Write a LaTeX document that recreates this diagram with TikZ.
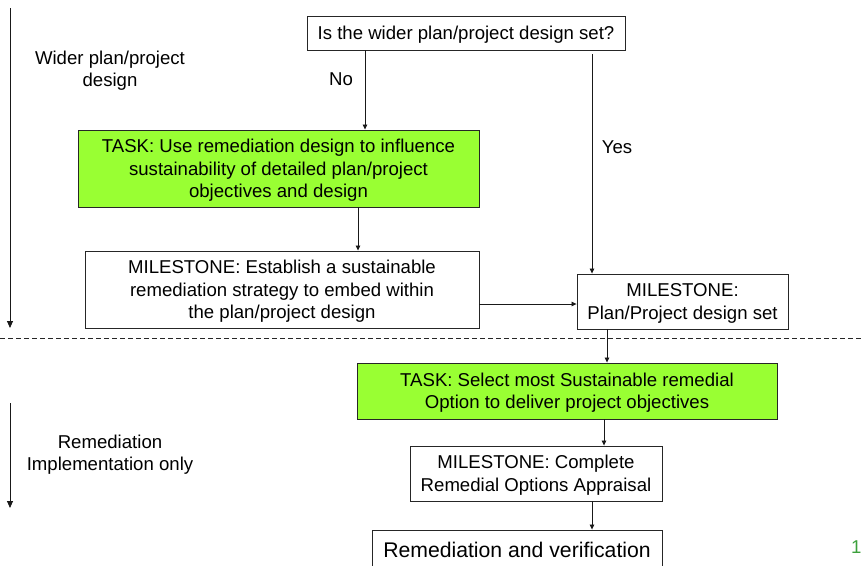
\documentclass[tikz,border=0pt]{standalone}
\usepackage{fontspec}
\setmainfont{Liberation Sans}
\usetikzlibrary{arrows.meta}
\definecolor{taskgreen}{RGB}{153,255,51}
\definecolor{pagegreen}{RGB}{60,160,60}
\begin{document}
\begin{tikzpicture}[x=1pt,y=-1pt,
  txt/.style={font=\fontsize{18.6}{22.5}\selectfont},
  box/.style={txt,draw=black!85,line width=0.9pt,align=center,inner sep=0pt,
    rectangle,anchor=center,text depth=-2pt},
  task/.style={box,fill=taskgreen},
  lbl/.style={txt,align=center,inner sep=0pt},
  arr/.style={-{Triangle[length=5pt,width=4.5pt]},line width=0.8pt,black!90},
  phase/.style={-{Triangle[length=7pt,width=6pt]},line width=0.8pt,black!90}]
\useasboundingbox (0,0) rectangle (861,565);

% decision and design stage
\node[box,minimum width=318pt,minimum height=34pt] (q) at (466,33)
  {Is the wider plan/project design set?};
\node[task,minimum width=401pt,minimum height=77pt] (t1) at (278.5,168.5)
  {TASK: Use remediation design to influence\\sustainability of detailed plan/project\\objectives and design};
\node[box,minimum width=394pt,minimum height=77pt] (m1) at (282,289.5)
  {MILESTONE: Establish a sustainable\\remediation strategy to embed within\\the plan/project design};
\node[box,minimum width=211pt,minimum height=55pt] (m2) at (682.5,301.5)
  {MILESTONE:\\Plan/Project design set};

% implementation stage
\node[task,minimum width=420pt,minimum height=56pt] (t2) at (567,391)
  {TASK: Select most Sustainable remedial\\Option to deliver project objectives};
\node[box,minimum width=252pt,minimum height=55pt] (m3) at (536,473.5)
  {MILESTONE: Complete\\Remedial Options Appraisal};
\node[box,minimum width=290pt,minimum height=40pt,
  font=\fontsize{21.2}{25}\selectfont] (fin) at (517,550)
  {Remediation and verification};

% side labels
\node[lbl] (lw) at (110,70.5) {Wider plan/project\\design};
\node[lbl] (lr) at (110,454.5) {Remediation\\Implementation only};
\node[lbl] (no) at (341,79.5) {No};
\node[lbl] (yes) at (617,147.5) {Yes};
\node[lbl,anchor=west,text=pagegreen] (pg) at (851,547) {1};

% phase arrows
\coordinate (p1a) at (10,8);
\coordinate (p1b) at (10,328);
\coordinate (p2a) at (10,403);
\coordinate (p2b) at (10,508);
\draw[phase] (p1a) -- (p1b);
\draw[phase] (p2a) -- (p2b);

% stage divider
\coordinate (dl) at (0,338);
\coordinate (dr) at (861,338);
\draw[line width=0.8pt,black!85,dash pattern=on 5pt off 3pt] (dl) -- (dr);

% flow connectors
\draw[arr] (365,0 |- q.south) -- (365,0 |- t1.north);
\draw[arr] (592,54) -- (592,0 |- m2.north);
\draw[arr] (358,0 |- t1.south) -- (358,0 |- m1.north);
\draw[arr] (m1.east |- 0,304) -- (m2.west |- 0,304);
\draw[arr] (607,0 |- m2.south) -- (607,0 |- t2.north);
\draw[arr] (604,0 |- t2.south) -- (604,0 |- m3.north);
\draw[arr] (592,0 |- m3.south) -- (592,0 |- fin.north);
\end{tikzpicture}
\end{document}
